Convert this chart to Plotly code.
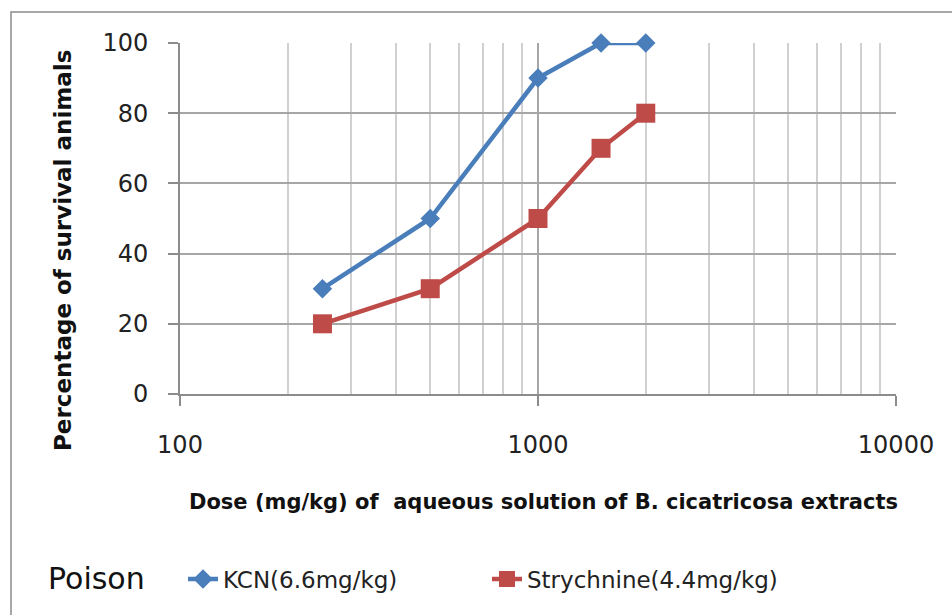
import plotly.graph_objects as go

doses = [250, 500, 1000, 1500, 2000]
kcn = [30, 50, 90, 100, 100]
strychnine = [20, 30, 50, 70, 80]
names = ["KCN(6.6mg/kg)", "Strychnine(4.4mg/kg)"]
x_ticks = [100, 1000, 10000]
y_ticks = [0, 20, 40, 60, 80, 100]

W, H = 952, 615
L, R, T, B = 180, 56, 43, 221
pw, ph = W - L - R, H - T - B

def px(x):
    return (x - L) / pw

def py(y):
    return (H - B - y) / ph

blue = "#4a7ebb"
red = "#be4b48"
tick_font = dict(family="DejaVu Sans", size=24, color="#222")

fig = go.Figure()
fig.add_trace(go.Scatter(
    x=doses, y=kcn, name=names[0], mode="lines+markers",
    line=dict(color=blue, width=4.5),
    marker=dict(symbol="diamond", size=15, color=blue),
    cliponaxis=False))
fig.add_trace(go.Scatter(
    x=doses, y=strychnine, name=names[1], mode="lines+markers",
    line=dict(color=red, width=4.5),
    marker=dict(symbol="square", size=19, color=red),
    cliponaxis=False))

fig.update_xaxes(
    type="log", range=[2, 4],
    tickvals=x_ticks, ticktext=[str(v) for v in x_ticks],
    tickfont=tick_font, ticks="outside", ticklen=10, tickwidth=2, tickcolor="#8c8c8c",
    ticklabelstandoff=18,
    showline=True, linecolor="#8c8c8c", linewidth=2,
    showgrid=True, gridcolor="#a6a6a6", gridwidth=2,
    minor=dict(dtick="D1", showgrid=True, gridcolor="#d0d0d0", gridwidth=2, ticks=""),
    zeroline=False, automargin=False)
fig.update_yaxes(
    range=[0, 100], tickvals=y_ticks,
    tickfont=tick_font, ticks="outside", ticklen=10, tickwidth=2, tickcolor="#8c8c8c",
    ticklabelstandoff=15,
    showline=True, linecolor="#8c8c8c", linewidth=2,
    showgrid=True, gridcolor="#a6a6a6", gridwidth=2,
    zeroline=False, automargin=False)

fig.add_annotation(
    text="Dose (mg/kg) of \u00a0aqueous solution of B. cicatricosa extracts",
    xref="paper", yref="paper", x=px(543), y=py(502),
    xanchor="center", yanchor="middle", showarrow=False,
    font=dict(family="DejaVu Sans", size=21, color="#111", weight="bold"))
fig.add_annotation(
    text="Percentage of survival animals",
    xref="paper", yref="paper", x=px(63), y=py(251), textangle=-90,
    xanchor="center", yanchor="middle", showarrow=False,
    font=dict(family="DejaVu Sans", size=23, color="#111", weight="bold"))
fig.add_annotation(
    text="Poison",
    xref="paper", yref="paper", x=px(46), y=py(578),
    xanchor="left", yanchor="middle", showarrow=False,
    font=dict(family="DejaVu Sans", size=30, color="#111"))

fig.add_shape(type="rect", xref="paper", yref="paper",
              x0=px(11), y0=-2, x1=3, y1=py(12),
              line=dict(color="#8c8c8c", width=1.5), fillcolor="rgba(0,0,0,0)")

fig.update_layout(
    width=W, height=H,
    margin=dict(l=L, r=R, t=T, b=B, autoexpand=False),
    paper_bgcolor="white", plot_bgcolor="white",
    showlegend=True,
    legend=dict(
        orientation="h", x=px(183), y=py(579), xanchor="left", yanchor="middle",
        font=dict(family="DejaVu Sans", size=23, color="#222"),
        entrywidth=259, bgcolor="rgba(0,0,0,0)"),
)

fig.write_html(
    "out.html",
    config={"displayModeBar": False},
    post_script="document.body.style.margin='0';document.body.style.overflow='hidden';")
